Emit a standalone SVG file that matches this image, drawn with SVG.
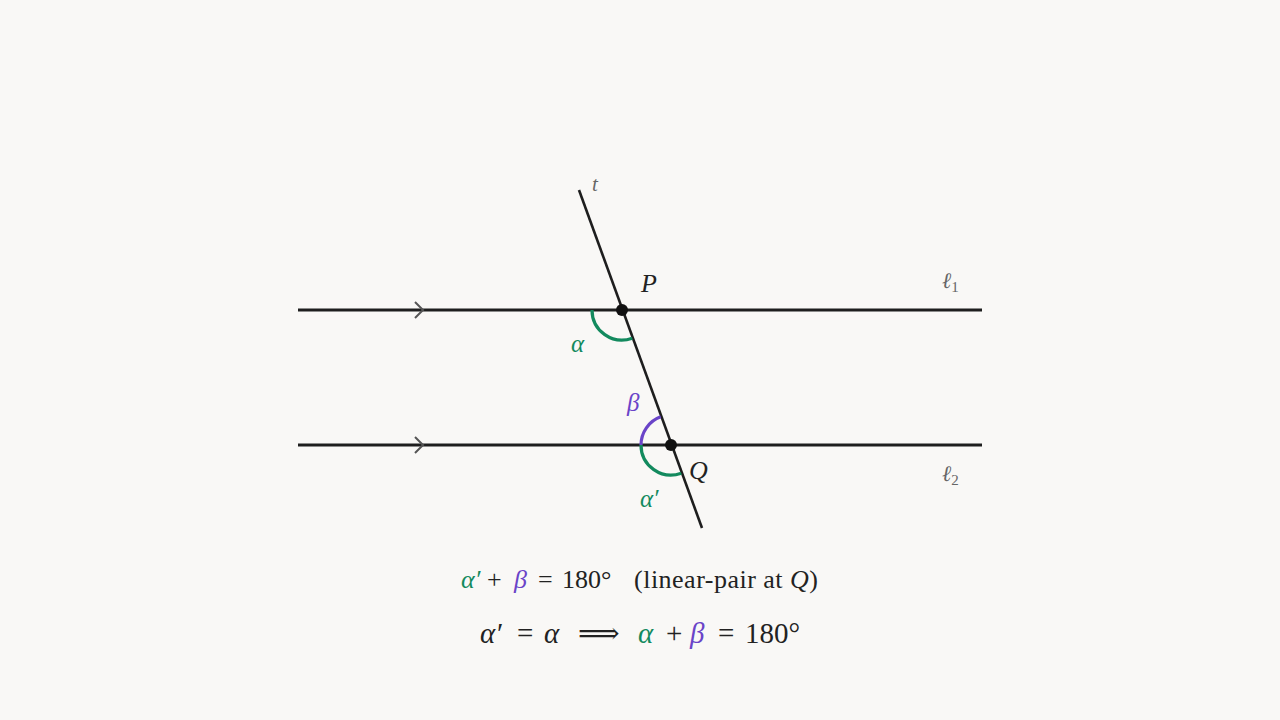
<svg xmlns="http://www.w3.org/2000/svg" width="1280" height="720" viewBox="0 0 1280 720">
<style>
.ln{stroke:#1e1e1e;stroke-width:3.2;fill:none;stroke-linecap:butt}
.tr{stroke:#1e1e1e;stroke-width:2.6;fill:none}
.chev{stroke:#555;stroke-width:2;fill:none}
.arcg{stroke:#138a5e;stroke-width:3.2;fill:none}
.arcp{stroke:#6a44c8;stroke-width:3.2;fill:none}
.m{font-family:"Liberation Serif","DejaVu Serif",serif;font-style:italic}
.r{font-family:"Liberation Serif","DejaVu Serif",serif}
.g{fill:#138a5e}
.p{fill:#6a44c8}
.k{fill:#222}
.gr{fill:#666}
</style>
<rect width="1280" height="720" fill="#f9f8f6"/>
<g id="connectors">
<line class="ln" x1="298" y1="310" x2="982" y2="310"/>
<line class="ln" x1="298" y1="445" x2="982" y2="445" stroke="#26223a"/>
<line class="tr" x1="579" y1="190" x2="702" y2="528"/>
<path class="chev" d="M415,302 L423,310 L415,318"/>
<path class="chev" d="M415,437 L423,445 L415,453"/>
</g>
<g id="angles">
<path class="arcg" d="M592,310 A30,30 0 0 0 632.3,338.2"/>
<path class="arcp" d="M641,445 A30,30 0 0 1 660.7,416.8"/>
<path class="arcg" d="M641,445 A30,30 0 0 0 681.3,473.2"/>
</g>
<g id="P"><circle cx="622" cy="310" r="6" fill="#111"/><text class="m k" x="641" y="292" font-size="26">P</text></g>
<g id="Q"><circle cx="671" cy="445" r="6" fill="#111"/><text class="m k" x="689" y="479" font-size="26">Q</text></g>
<g id="labels">
<text class="m gr" x="592" y="191" font-size="21">t</text>
<text class="m gr" x="942" y="288" font-size="22">ℓ<tspan font-style="normal" font-size="15" dy="4">1</tspan></text>
<text class="m gr" x="942" y="481" font-size="22">ℓ<tspan font-style="normal" font-size="15" dy="4">2</tspan></text>
<text class="m g" x="571" y="352" font-size="25">α</text>
<text class="m p" x="627" y="411" font-size="25">β</text>
<text class="m g" x="640" y="507" font-size="25">α′</text>
</g>
<g id="eq1" font-size="26">
<text class="m g" x="461" y="588">α′</text>
<text class="r k" x="487" y="588">+</text>
<text class="m p" x="514" y="588">β</text>
<text class="r k" x="538" y="588">=</text>
<text class="r k" x="562" y="588">180°</text>
<text class="r k" x="634" y="588" textLength="184" lengthAdjust="spacing">(linear-pair at <tspan font-style="italic">Q</tspan>)</text>
</g>
<g id="eq2" font-size="29">
<text class="m k" x="480" y="643">α′</text>
<text class="r k" x="517" y="643">=</text>
<text class="m k" x="544" y="643">α</text>
<text class="r k" x="578" y="643">⟹</text>
<text class="m g" x="638" y="643">α</text>
<text class="r k" x="666" y="643">+</text>
<text class="m p" x="690" y="643">β</text>
<text class="r k" x="718" y="643">=</text>
<text class="r k" x="745" y="643">180°</text>
</g>
</svg>
